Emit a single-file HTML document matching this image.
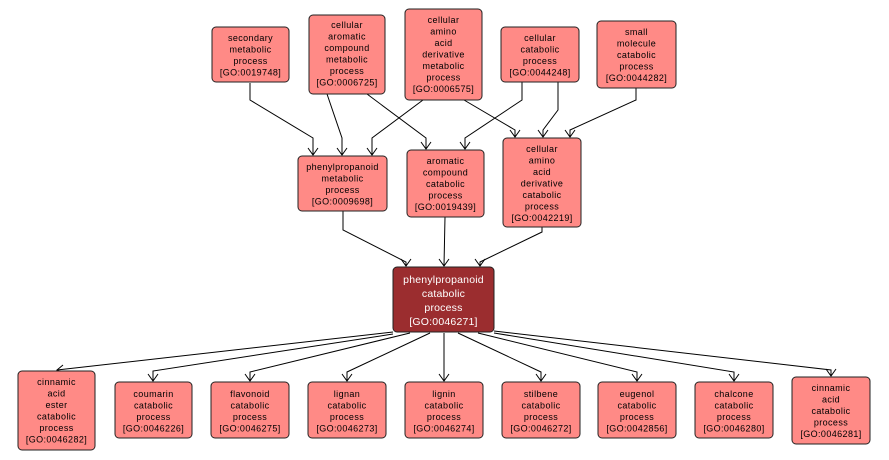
<!DOCTYPE html>
<html><head><meta charset="utf-8"><style>
html,body{margin:0;padding:0;background:#fff;width:889px;height:460px;overflow:hidden}
svg{display:block}
text{font-family:"Liberation Sans","DejaVu Sans",sans-serif;font-size:9px;letter-spacing:0.4px;text-anchor:middle;fill:#000}
.n{fill:#ff8a86;stroke:#222;stroke-width:1}
.c{fill:#9b2d2f;stroke:#222;stroke-width:1}
.e{fill:none;stroke:#000;stroke-width:1}
.w{fill:#fff;font-size:10.5px;letter-spacing:0.2px}
</style></head><body>
<svg width="889" height="460" viewBox="0 0 889 460">
<defs><marker id="a" markerWidth="12" markerHeight="10" refX="6" refY="9" orient="auto-start-reverse" markerUnits="userSpaceOnUse" viewBox="0 0 12 10">
</marker></defs>
<!-- edges -->
<g class="e">
<polyline points="250,83 250,100 313,138 313,155"/>
<polyline points="327,94 342,138 342,155"/>
<polyline points="423,100 372,138 372,155"/>
<polyline points="367,94 426,138 426,149"/>
<polyline points="522,82 522,100 465,138 465,149"/>
<polyline points="464,100 515,130 515,137"/>
<polyline points="558,82 558,110 543,130 543,137"/>
<polyline points="636,88 636,100 570,130 570,137"/>
<polyline points="343,211 343,230 406,262 406,266"/>
<polyline points="445,217 444,266"/>
<polyline points="542,227 542,232 480,262 480,266"/>
<polyline points="393,332 57,370"/>
<polyline points="393,334 153,371 153,381"/>
<polyline points="410,333 250,372 250,381"/>
<polyline points="430,333 347,372 347,381"/>
<polyline points="444,333 444,381"/>
<polyline points="458,333 541,372 541,381"/>
<polyline points="478,333 637,372 637,381"/>
<polyline points="494,333 734,372 734,381"/>
<polyline points="494,331 831,370 831,376"/>
</g>
<!-- arrowheads -->
<g class="e" stroke-width="1.3">
<polyline points="308,148 313,155 318,148"/>
<polyline points="337,148 342,155 347,148"/>
<polyline points="367,148 372,155 377,148"/>
<polyline points="421,142 426,149 431,142"/>
<polyline points="460,142 465,149 470,142"/>
<polyline points="510,130 515,137 520,130"/>
<polyline points="538,130 543,137 548,130"/>
<polyline points="565,130 570,137 575,130"/>
<polyline points="401,259 406,266 411,259"/>
<polyline points="439,259 444,266 449,259"/>
<polyline points="475,259 480,266 485,259"/>
<polyline points="63,365 57,370 64,373"/>
<polyline points="148,374 153,381 158,374"/>
<polyline points="245,374 250,381 255,374"/>
<polyline points="342,374 347,381 352,374"/>
<polyline points="439,374 444,381 449,374"/>
<polyline points="536,374 541,381 546,374"/>
<polyline points="632,374 637,381 642,374"/>
<polyline points="729,374 734,381 739,374"/>
<polyline points="826,369 831,376 836,369"/>
</g>
<!-- top row -->
<rect class="n" x="212" y="27" width="77" height="55" rx="4"/>
<text x="250.5" y="41"><tspan x="250.5">secondary</tspan><tspan x="250.5" dy="11.5">metabolic</tspan><tspan x="250.5" dy="11.5">process</tspan><tspan x="250.5" dy="11.5">[GO:0019748]</tspan></text>
<rect class="n" x="309" y="15" width="76" height="79" rx="4"/>
<text x="347" y="28"><tspan x="347">cellular</tspan><tspan x="347" dy="11.5">aromatic</tspan><tspan x="347" dy="11.5">compound</tspan><tspan x="347" dy="11.5">metabolic</tspan><tspan x="347" dy="11.5">process</tspan><tspan x="347" dy="11.5">[GO:0006725]</tspan></text>
<rect class="n" x="405" y="9" width="77" height="91" rx="4"/>
<text x="443.5" y="23"><tspan x="443.5">cellular</tspan><tspan x="443.5" dy="11.5">amino</tspan><tspan x="443.5" dy="11.5">acid</tspan><tspan x="443.5" dy="11.5">derivative</tspan><tspan x="443.5" dy="11.5">metabolic</tspan><tspan x="443.5" dy="11.5">process</tspan><tspan x="443.5" dy="11.5">[GO:0006575]</tspan></text>
<rect class="n" x="501" y="27" width="78" height="55" rx="4"/>
<text x="540" y="41"><tspan x="540">cellular</tspan><tspan x="540" dy="11.5">catabolic</tspan><tspan x="540" dy="11.5">process</tspan><tspan x="540" dy="11.5">[GO:0044248]</tspan></text>
<rect class="n" x="597" y="21" width="79" height="67" rx="4"/>
<text x="636.5" y="35"><tspan x="636.5">small</tspan><tspan x="636.5" dy="11.5">molecule</tspan><tspan x="636.5" dy="11.5">catabolic</tspan><tspan x="636.5" dy="11.5">process</tspan><tspan x="636.5" dy="11.5">[GO:0044282]</tspan></text>
<!-- middle -->
<rect class="n" x="298" y="156" width="89" height="55" rx="4"/>
<text x="342.5" y="170"><tspan x="342.5">phenylpropanoid</tspan><tspan x="342.5" dy="11.5">metabolic</tspan><tspan x="342.5" dy="11.5">process</tspan><tspan x="342.5" dy="11.5">[GO:0009698]</tspan></text>
<rect class="n" x="407" y="150" width="77" height="67" rx="4"/>
<text x="445.5" y="164"><tspan x="445.5">aromatic</tspan><tspan x="445.5" dy="11.5">compound</tspan><tspan x="445.5" dy="11.5">catabolic</tspan><tspan x="445.5" dy="11.5">process</tspan><tspan x="445.5" dy="11.5">[GO:0019439]</tspan></text>
<rect class="n" x="503" y="138" width="78" height="89" rx="4"/>
<text x="542" y="152"><tspan x="542">cellular</tspan><tspan x="542" dy="11.5">amino</tspan><tspan x="542" dy="11.5">acid</tspan><tspan x="542" dy="11.5">derivative</tspan><tspan x="542" dy="11.5">catabolic</tspan><tspan x="542" dy="11.5">process</tspan><tspan x="542" dy="11.5">[GO:0042219]</tspan></text>
<!-- center -->
<rect class="c" x="393" y="267" width="101" height="65" rx="4"/>
<text class="w" x="443.5" y="283"><tspan x="443.5">phenylpropanoid</tspan><tspan x="443.5" dy="14">catabolic</tspan><tspan x="443.5" dy="14">process</tspan><tspan x="443.5" dy="14">[GO:0046271]</tspan></text>
<!-- bottom -->
<rect class="n" x="18" y="371" width="77" height="79" rx="4"/>
<text x="56.5" y="385"><tspan x="56.5">cinnamic</tspan><tspan x="56.5" dy="11.5">acid</tspan><tspan x="56.5" dy="11.5">ester</tspan><tspan x="56.5" dy="11.5">catabolic</tspan><tspan x="56.5" dy="11.5">process</tspan><tspan x="56.5" dy="11.5">[GO:0046282]</tspan></text>
<rect class="n" x="115" y="382" width="77" height="56" rx="4"/>
<text x="153.5" y="397"><tspan x="153.5">coumarin</tspan><tspan x="153.5" dy="11.5">catabolic</tspan><tspan x="153.5" dy="11.5">process</tspan><tspan x="153.5" dy="11.5">[GO:0046226]</tspan></text>
<rect class="n" x="211" y="382" width="78" height="56" rx="4"/>
<text x="250" y="397"><tspan x="250">flavonoid</tspan><tspan x="250" dy="11.5">catabolic</tspan><tspan x="250" dy="11.5">process</tspan><tspan x="250" dy="11.5">[GO:0046275]</tspan></text>
<rect class="n" x="308" y="382" width="78" height="56" rx="4"/>
<text x="347" y="397"><tspan x="347">lignan</tspan><tspan x="347" dy="11.5">catabolic</tspan><tspan x="347" dy="11.5">process</tspan><tspan x="347" dy="11.5">[GO:0046273]</tspan></text>
<rect class="n" x="405" y="382" width="78" height="56" rx="4"/>
<text x="444" y="397"><tspan x="444">lignin</tspan><tspan x="444" dy="11.5">catabolic</tspan><tspan x="444" dy="11.5">process</tspan><tspan x="444" dy="11.5">[GO:0046274]</tspan></text>
<rect class="n" x="502" y="382" width="78" height="56" rx="4"/>
<text x="541" y="397"><tspan x="541">stilbene</tspan><tspan x="541" dy="11.5">catabolic</tspan><tspan x="541" dy="11.5">process</tspan><tspan x="541" dy="11.5">[GO:0046272]</tspan></text>
<rect class="n" x="598" y="382" width="78" height="56" rx="4"/>
<text x="637" y="397"><tspan x="637">eugenol</tspan><tspan x="637" dy="11.5">catabolic</tspan><tspan x="637" dy="11.5">process</tspan><tspan x="637" dy="11.5">[GO:0042856]</tspan></text>
<rect class="n" x="695" y="382" width="78" height="56" rx="4"/>
<text x="734" y="397"><tspan x="734">chalcone</tspan><tspan x="734" dy="11.5">catabolic</tspan><tspan x="734" dy="11.5">process</tspan><tspan x="734" dy="11.5">[GO:0046280]</tspan></text>
<rect class="n" x="792" y="377" width="78" height="67" rx="4"/>
<text x="831" y="391"><tspan x="831">cinnamic</tspan><tspan x="831" dy="11.5">acid</tspan><tspan x="831" dy="11.5">catabolic</tspan><tspan x="831" dy="11.5">process</tspan><tspan x="831" dy="11.5">[GO:0046281]</tspan></text>
</svg>
</body></html>
